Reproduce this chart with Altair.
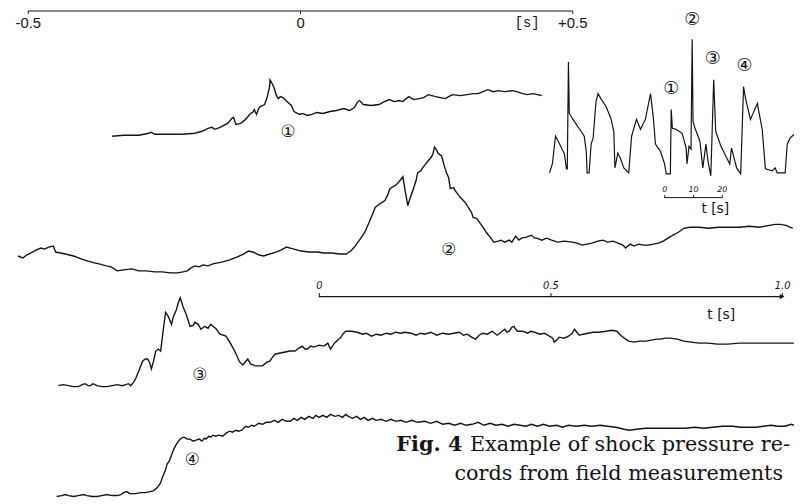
import altair as alt
import pandas as pd

# ---------------- record 1 (time [s], relative pressure) ----------------
t1 = [-0.345, -0.324, -0.296, -0.278, -0.273, -0.267, -0.242, -0.215, -0.193, -0.180,
      -0.169, -0.162, -0.156, -0.147, -0.133, -0.125, -0.122, -0.118, -0.109, -0.100,
      -0.091, -0.087, -0.084, -0.080, -0.076, -0.073, -0.065, -0.060, -0.056, -0.055,
      -0.051, -0.047, -0.044, -0.040, -0.036, -0.031, -0.024, -0.016, -0.011, -0.005,
      0.000, 0.005, 0.013, 0.022, 0.031, 0.042, 0.055, 0.067, 0.080, 0.091,
      0.100, 0.105, 0.109, 0.113, 0.116, 0.131, 0.145, 0.155, 0.164, 0.173,
      0.182, 0.189, 0.195, 0.200, 0.209, 0.218, 0.227, 0.236, 0.249, 0.258,
      0.267, 0.273, 0.280, 0.295, 0.307, 0.318, 0.327, 0.336, 0.345, 0.355,
      0.364, 0.376, 0.389, 0.398, 0.409, 0.418, 0.427, 0.436, 0.444]
p1 = [-2, -1, -1, 1, 2, 0, 0, 0, 1, 3,
      6, 7, 5, 7, 11, 16, 17, 10, 11, 15,
      21, 22, 25, 20, 26, 28, 30, 38, 48, 55,
      51, 46, 40, 36, 38, 37, 33, 29, 23, 21,
      20, 21, 19, 20, 22, 21, 23, 24, 26, 24,
      27, 32, 34, 32, 30, 29, 30, 33, 35, 33,
      34, 33, 36, 38, 35, 36, 37, 40, 38, 37,
      36, 38, 40, 39, 40, 41, 41, 43, 45, 43,
      44, 43, 44, 43, 41, 40, 41, 40, 39]

# ---------------- record 2 ----------------
t2 = [-0.518, -0.509, -0.502, -0.495, -0.485, -0.476, -0.469, -0.462, -0.453, -0.449,
      -0.440, -0.431, -0.416, -0.402, -0.391, -0.378, -0.369, -0.356, -0.347, -0.336,
      -0.324, -0.309, -0.296, -0.282, -0.267, -0.253, -0.238, -0.225, -0.215, -0.207,
      -0.200, -0.193, -0.185, -0.178, -0.169, -0.160, -0.151, -0.142, -0.129, -0.115,
      -0.104, -0.095, -0.087, -0.082, -0.075, -0.067, -0.056, -0.044, -0.035, -0.025,
      -0.018, -0.011, 0.002, 0.016, 0.031, 0.044, 0.058, 0.073, 0.085, 0.093,
      0.100, 0.109, 0.118, 0.127, 0.133, 0.138, 0.147, 0.156, 0.162, 0.165,
      0.171, 0.175, 0.182, 0.189, 0.193, 0.198, 0.202, 0.207, 0.213, 0.216,
      0.222, 0.225, 0.231, 0.235, 0.240, 0.244, 0.247, 0.251, 0.253, 0.260,
      0.265, 0.269, 0.273, 0.276, 0.282, 0.285, 0.293, 0.300, 0.305, 0.309,
      0.315, 0.318, 0.324, 0.327, 0.335, 0.342, 0.349, 0.356, 0.364, 0.369,
      0.376, 0.384, 0.389, 0.396, 0.402, 0.407, 0.416, 0.425, 0.431, 0.435,
      0.444, 0.453, 0.462, 0.473, 0.485, 0.500, 0.509, 0.518, 0.527, 0.536,
      0.547, 0.556, 0.565, 0.575, 0.584, 0.593, 0.598, 0.602, 0.607, 0.613,
      0.622, 0.631, 0.640, 0.649, 0.658, 0.667, 0.676, 0.685, 0.695, 0.705,
      0.716, 0.733, 0.751, 0.769, 0.787, 0.807, 0.825, 0.844, 0.862, 0.873,
      0.882, 0.893, 0.905]
p2 = [17, 15, 18, 20, 23, 25, 24, 26, 27, 21,
      20, 19, 17, 14, 12, 10, 9, 7, 6, 2,
      3, 4, 2, 2, 1, 1, 0, 0, 1, 2,
      5, 7, 6, 8, 7, 9, 10, 11, 13, 16,
      19, 22, 21, 20, 18, 17, 19, 21, 23, 26,
      25, 24, 22, 21, 21, 20, 20, 19, 19, 22,
      26, 33, 40, 51, 59, 66, 70, 73, 80, 85,
      87, 88, 92, 97, 83, 68, 75, 83, 93, 101,
      103, 106, 110, 113, 116, 120, 127, 124, 121, 118,
      108, 101, 96, 85, 86, 83, 77, 73, 70, 66,
      61, 56, 55, 53, 47, 41, 36, 31, 32, 33,
      31, 33, 31, 37, 33, 35, 36, 38, 35, 35,
      33, 35, 33, 31, 32, 31, 30, 28, 29, 30,
      32, 33, 31, 32, 30, 28, 25, 27, 29, 27,
      29, 28, 28, 29, 30, 32, 35, 38, 41, 45,
      46, 46, 45, 46, 46, 46, 47, 46, 48, 49,
      49, 48, 45]

# ---------------- record 3 ----------------
t3 = [-0.444, -0.435, -0.425, -0.416, -0.407, -0.400, -0.395, -0.389, -0.385, -0.380,
      -0.373, -0.364, -0.355, -0.345, -0.336, -0.327, -0.320, -0.315, -0.311, -0.305,
      -0.302, -0.296, -0.289, -0.284, -0.280, -0.276, -0.273, -0.269, -0.265, -0.260,
      -0.256, -0.251, -0.247, -0.242, -0.236, -0.233, -0.227, -0.224, -0.220, -0.215,
      -0.209, -0.202, -0.196, -0.193, -0.187, -0.182, -0.175, -0.169, -0.164, -0.158,
      -0.155, -0.147, -0.136, -0.127, -0.120, -0.111, -0.105, -0.096, -0.091, -0.082,
      -0.069, -0.060, -0.055, -0.049, -0.045, -0.036, -0.027, -0.018, -0.009, -0.002,
      0.004, 0.009, 0.013, 0.020, 0.025, 0.035, 0.044, 0.051, 0.056, 0.062,
      0.065, 0.071, 0.075, 0.080, 0.084, 0.095, 0.105, 0.115, 0.122, 0.131,
      0.140, 0.149, 0.158, 0.167, 0.176, 0.185, 0.193, 0.204, 0.213, 0.222,
      0.229, 0.240, 0.251, 0.262, 0.273, 0.282, 0.293, 0.300, 0.307, 0.315,
      0.322, 0.329, 0.336, 0.344, 0.353, 0.362, 0.369, 0.376, 0.380, 0.384,
      0.389, 0.393, 0.396, 0.400, 0.409, 0.418, 0.424, 0.431, 0.440, 0.449,
      0.458, 0.464, 0.467, 0.473, 0.476, 0.485, 0.493, 0.500, 0.504, 0.507,
      0.513, 0.520, 0.529, 0.538, 0.549, 0.562, 0.573, 0.582, 0.587, 0.591,
      0.598, 0.604, 0.613, 0.624, 0.635, 0.645, 0.655, 0.662, 0.671, 0.680,
      0.693, 0.705, 0.718, 0.733, 0.749, 0.767, 0.785, 0.807, 0.829, 0.849,
      0.867, 0.885, 0.907]
p3 = [1, 2, 1, 0, 0, 2, 3, 1, 1, 3,
      1, 0, 0, 1, 2, 1, 2, 3, 1, 5,
      8, 16, 26, 28, 28, 24, 18, 26, 36, 38,
      36, 58, 75, 71, 63, 70, 78, 84, 90, 81,
      73, 61, 62, 65, 63, 58, 61, 59, 63, 60,
      59, 53, 51, 43, 36, 25, 22, 28, 23, 21,
      21, 25, 26, 31, 33, 34, 35, 36, 36, 39,
      41, 38, 38, 41, 40, 42, 41, 44, 38, 43,
      45, 48, 50, 54, 56, 56, 55, 53, 54, 51,
      53, 52, 54, 53, 55, 54, 55, 54, 52, 54,
      53, 55, 52, 54, 53, 54, 55, 52, 53, 50,
      48, 52, 54, 53, 56, 52, 55, 58, 55, 56,
      60, 61, 58, 56, 56, 54, 56, 55, 53, 54,
      51, 49, 45, 48, 50, 49, 51, 54, 58, 56,
      52, 53, 54, 55, 55, 56, 57, 56, 53, 51,
      48, 46, 45, 46, 46, 47, 48, 48, 49, 49,
      48, 46, 45, 44, 44, 43, 43, 44, 44, 44,
      44, 44, 44]

# ---------------- record 4 ----------------
t4 = [-0.447, -0.438, -0.431, -0.425, -0.416, -0.407, -0.398, -0.391, -0.382, -0.373,
      -0.364, -0.355, -0.345, -0.336, -0.329, -0.324, -0.318, -0.313, -0.302, -0.293,
      -0.284, -0.275, -0.269, -0.262, -0.256, -0.253, -0.247, -0.244, -0.240, -0.236,
      -0.231, -0.227, -0.222, -0.218, -0.213, -0.207, -0.202, -0.196, -0.191, -0.185,
      -0.180, -0.176, -0.173, -0.167, -0.164, -0.160, -0.155, -0.149, -0.142, -0.136,
      -0.129, -0.124, -0.118, -0.113, -0.107, -0.100, -0.095, -0.089, -0.084, -0.076,
      -0.069, -0.062, -0.055, -0.047, -0.040, -0.033, -0.025, -0.018, -0.011, -0.005,
      0.002, 0.009, 0.016, 0.024, 0.029, 0.035, 0.042, 0.049, 0.056, 0.064,
      0.071, 0.078, 0.084, 0.089, 0.096, 0.104, 0.111, 0.118, 0.125, 0.133,
      0.140, 0.149, 0.158, 0.167, 0.176, 0.185, 0.195, 0.205, 0.216, 0.229,
      0.240, 0.251, 0.262, 0.273, 0.284, 0.295, 0.305, 0.316, 0.327, 0.338,
      0.349, 0.360, 0.371, 0.382, 0.393, 0.404, 0.415, 0.425, 0.436, 0.447,
      0.458, 0.471, 0.482, 0.493, 0.507, 0.522, 0.536, 0.551, 0.565, 0.580,
      0.595, 0.605, 0.618, 0.635, 0.653, 0.671, 0.689, 0.707, 0.725, 0.742,
      0.758, 0.776, 0.795, 0.809, 0.824, 0.838, 0.851, 0.865, 0.878, 0.891,
      0.902, 0.907]
p4 = [0, 1, 2, 1, 0, 1, 2, 1, 0, 0,
      1, 2, 1, 1, 2, 4, 5, 3, 3, 4,
      4, 5, 6, 9, 14, 19, 27, 33, 36, 42,
      49, 53, 57, 59, 60, 58, 58, 56, 57, 58,
      56, 59, 58, 61, 60, 62, 61, 62, 61, 64,
      66, 65, 67, 66, 67, 71, 70, 72, 71, 74,
      73, 75, 75, 77, 75, 78, 76, 76, 79, 77,
      80, 78, 81, 79, 82, 80, 82, 80, 83, 81,
      82, 80, 83, 81, 79, 81, 78, 80, 77, 79,
      77, 78, 76, 78, 76, 77, 75, 77, 75, 76,
      74, 76, 73, 74, 72, 74, 72, 73, 75, 72,
      74, 72, 73, 71, 73, 72, 71, 73, 71, 73,
      71, 72, 70, 72, 71, 72, 71, 72, 71, 70,
      68, 67, 68, 69, 69, 69, 69, 69, 70, 69,
      70, 71, 71, 70, 70, 70, 71, 72, 71, 71,
      73, 72]

# ---------------- inset: long record (time [s], relative pressure) ----------------
ti = [-40.0, -39.0, -37.9, -36.6, -34.8, -34.1, -33.8, -33.4, -33.1, -31.4,
      -29.0, -27.9, -27.2, -26.9, -26.2, -25.5, -24.8, -23.8, -23.1, -22.1,
      -20.3, -18.6, -17.6, -17.2, -16.2, -15.2, -14.1, -12.4, -11.4, -9.7,
      -8.3, -6.6, -4.8, -3.8, -3.1, -1.4, 0.0, 0.7, 2.1, 2.4,
      2.8, 4.1, 6.2, 7.6, 7.9, 8.6, 9.3, 9.7, 10.0, 10.7,
      12.4, 13.4, 14.5, 15.2, 16.2, 17.2, 17.9, 19.7, 21.4, 22.8,
      23.4, 25.2, 26.6, 27.6, 28.3, 30.0, 32.4, 34.1, 35.2, 37.6,
      38.6, 39.3, 42.1, 42.8, 43.8, 45.2]
pi = [1, 10, 38, 31, 20, 5, 5, 113, 61, 53,
      43, 38, 23, 1, 1, 30, 36, 73, 81, 76,
      68, 56, 43, 6, 21, 15, 6, 1, 38, 55,
      45, 55, 81, 56, 30, 23, 11, 0, 0, 65,
      46, 45, 41, 26, 10, 28, 25, 136, 53, 46,
      33, 6, 30, 13, -2, 95, 43, 28, 18, 10,
      26, 6, 0, 88, 76, 55, 71, 45, 5, 3,
      6, 1, 1, 30, 36, 40]

# ---------------- labels and ticks ----------------
rec_ids = ["1", "2", "3", "4"]
rec_offsets = [371, 231, 116, 5]           # vertical stacking of the four records
rec_marks = ["\u2460", "\u2461", "\u2462", "\u2463"]
rec_mark_t = [-0.022, 0.273, -0.184, -0.198]
rec_mark_p = [2, 23, 12, 37]
inset_mark_t = [2.4, 9.7, 16.9, 27.9]
inset_mark_p = [86, 155, 116, 109]
top_ticks = [-0.5, 0, 0.5]
lower_ticks = [0, 0.5, 1.0]
bar_ticks = [0, 10, 20]
fig_label = "Fig. 4"
caption_lines = ["Example of shock pressure re-", "cords from field measurements"]

W, H = 794, 496
INK = "#141414"

# ---------------- tables ----------------
frames = []
for rid, ts, ps in zip(rec_ids, (t1, t2, t3, t4), (p1, p2, p3, p4)):
    frames.append(pd.DataFrame({"t": ts, "p": ps, "rec": rid}))
rec_df = pd.concat(frames, ignore_index=True)
off = dict(zip(rec_ids, rec_offsets))
rec_df["v"] = rec_df["p"] + rec_df["rec"].map(off)

lab_df = pd.DataFrame({"t": rec_mark_t, "p": rec_mark_p, "rec": rec_ids, "txt": rec_marks})
lab_df["v"] = lab_df["p"] + lab_df["rec"].map(off)

inset_df = pd.DataFrame({"ti": ti, "pi": pi})
inset_lab_df = pd.DataFrame({"ti": inset_mark_t, "pi": inset_mark_p, "txt": rec_marks})


# ---------------- scales (built fresh for every layer) ----------------
def main_x():
    return alt.Scale(domain=[-0.5, 0.5], range=[20, 570], nice=False, zero=False)


def main_y():
    return alt.Scale(domain=[0, H], range=[H, 0], nice=False, zero=False)


def inset_x():
    return alt.Scale(domain=[-40, 45], range=[547, 793.5], nice=False, zero=False)


def inset_y():
    return alt.Scale(domain=[0, 136], range=[165, 29], nice=False, zero=False)


def bar_x():
    return alt.Scale(domain=[bar_ticks[0], bar_ticks[-1]], range=[663, 721], nice=False, zero=False)


def lower_x():
    return alt.Scale(domain=[lower_ticks[0], lower_ticks[-1]], range=[314, 782], nice=False, zero=False)


# ---------------- main records ----------------
top_axis = alt.Axis(
    orient="bottom", offset=-H, values=top_ticks, grid=False,
    labelExpr="(datum.value > 0 ? '+' : datum.value < 0 ? '-' : '') + format(abs(datum.value), '.1~f')",
    labelFont="Liberation Sans", labelFontSize=15, labelColor=INK, labelPadding=2,
    labelFlush=False, labelOverlap=False,
    tickSize=3, tickColor=INK, domainColor=INK, domainWidth=1.2,
    title="[s]", titleFont="Liberation Mono", titleFontSize=14, titleFontWeight="normal",
    titleColor=INK, titleX=524, titleY=12, titleAlign="center", titleBaseline="middle",
)

lines = alt.Chart(rec_df).mark_line(color=INK, strokeWidth=1.4).encode(
    x=alt.X("t:Q", scale=main_x(), axis=top_axis),
    y=alt.Y("v:Q", scale=main_y(), axis=None),
    detail="rec:N",
)
labels = alt.Chart(lab_df).mark_text(font="DejaVu Sans", fontSize=17, color=INK).encode(
    x=alt.X("t:Q", scale=main_x(), axis=None),
    y=alt.Y("v:Q", scale=main_y(), axis=None),
    text="txt:N",
)

# ---------------- inset ----------------
inset_line = alt.Chart(inset_df).mark_line(color=INK, strokeWidth=1.2).encode(
    x=alt.X("ti:Q", scale=inset_x(), axis=None),
    y=alt.Y("pi:Q", scale=inset_y(), axis=None),
)
inset_labels = alt.Chart(inset_lab_df).mark_text(font="DejaVu Sans", fontSize=18, color=INK).encode(
    x=alt.X("ti:Q", scale=inset_x(), axis=None),
    y=alt.Y("pi:Q", scale=inset_y(), axis=None),
    text="txt:N",
)

# inset time scale bar
bar_df = pd.DataFrame({"a": [bar_ticks[0]], "b": [bar_ticks[-1]]})
bar = alt.Chart(bar_df).mark_rule(color=INK, strokeWidth=1).encode(
    x=alt.X("a:Q", scale=bar_x(), axis=alt.Axis(
        orient="top", offset=-189, values=bar_ticks, domain=False, grid=False,
        tickSize=3, tickColor=INK, labelFont="DejaVu Sans", labelFontStyle="italic",
        labelFontSize=8, labelColor=INK, labelPadding=1, labelFlush=False,
        title="t [s]", titleFont="DejaVu Sans", titleFontSize=14, titleFontWeight="normal",
        titleColor=INK, titleX=714, titleY=11, titleAlign="center", titleBaseline="middle")),
    x2="b:Q",
    y=alt.value(189),
)

# lower time axis 0 ... 1.0 s
lower_df = pd.DataFrame({"a": [lower_ticks[0]], "b": [lower_ticks[-1]]})
lower_rule = alt.Chart(lower_df).mark_rule(color=INK, strokeWidth=1.3).encode(
    x=alt.X("a:Q", scale=lower_x(), axis=alt.Axis(
        orient="top", offset=-289, values=lower_ticks, domain=False, grid=False,
        tickSize=4, tickColor=INK,
        labelExpr="datum.value == 0 ? '0' : format(datum.value, '.1f')",
        labelFont="DejaVu Sans", labelFontStyle="italic", labelFontSize=10,
        labelColor=INK, labelPadding=2, labelFlush=False,
        title="t [s]", titleFont="DejaVu Sans", titleFontSize=14, titleFontWeight="normal",
        titleColor=INK, titleX=720, titleY=18, titleAlign="center", titleBaseline="middle")),
    x2="b:Q",
    y=alt.value(289),
)
arrow = alt.Chart(lower_df).mark_point(shape="triangle-right", filled=True, size=30,
                                       color=INK, opacity=1).encode(
    x=alt.X("b:Q", scale=lower_x(), axis=None),
    y=alt.value(289),
)

# ---------------- caption ----------------
fig_df = pd.DataFrame({"txt": [fig_label]})
cap1_df = pd.DataFrame({"txt": [caption_lines[0]]})
cap2_df = pd.DataFrame({"txt": [caption_lines[1]]})
fig_txt = alt.Chart(fig_df).mark_text(font="DejaVu Serif", fontSize=21, fontWeight="bold",
                                      align="right", baseline="middle", color=INK).encode(
    x=alt.value(459), y=alt.value(439), text="txt:N")
cap1 = alt.Chart(cap1_df).mark_text(font="DejaVu Serif", fontSize=21, align="right",
                                    baseline="middle", color=INK).encode(
    x=alt.value(790), y=alt.value(439), text="txt:N")
cap2 = alt.Chart(cap2_df).mark_text(font="DejaVu Serif", fontSize=21, align="right",
                                    baseline="middle", color=INK).encode(
    x=alt.value(783), y=alt.value(468), text="txt:N")

chart = alt.layer(
    lines, labels, inset_line, inset_labels, bar, lower_rule, arrow, fig_txt, cap1, cap2
).resolve_scale(
    x="independent", y="independent"
).resolve_axis(
    x="independent", y="independent"
).properties(
    width=W, height=H, padding=0,
    autosize=alt.AutoSizeParams(type="none"),
    background="white",
).configure_view(stroke=None)

chart.save("out.html", embed_options={"renderer": "svg", "actions": False})
